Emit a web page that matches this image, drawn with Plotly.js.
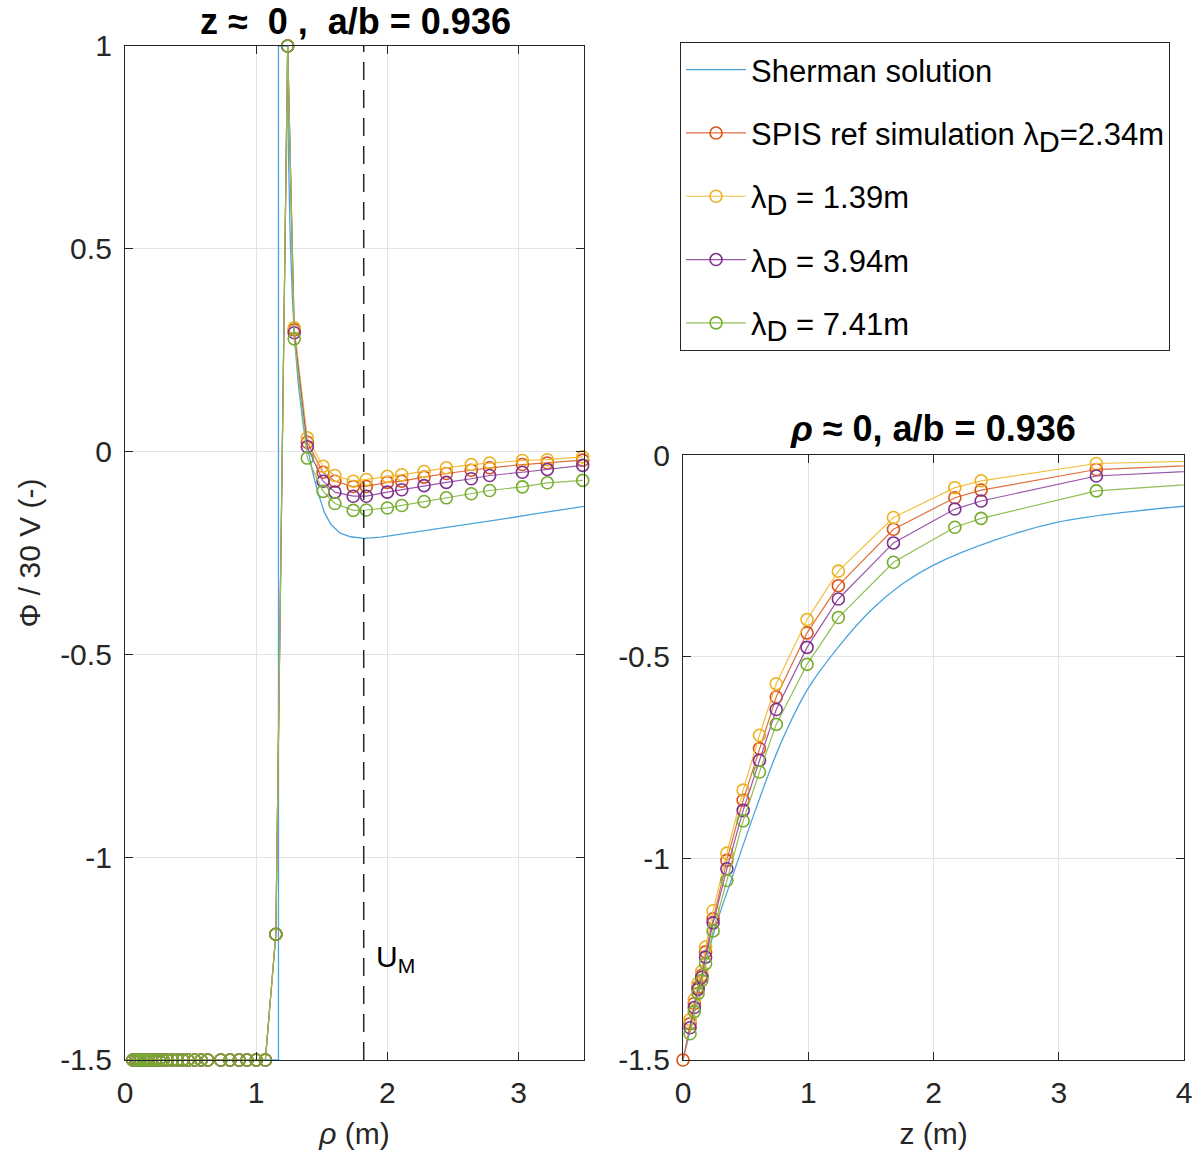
<!DOCTYPE html>
<html>
<head>
<meta charset="utf-8">
<script src="https://cdn.plot.ly/plotly-3.0.1.min.js"></script>
<style>
  body { margin: 0; background: #fff; }
  #plot { width: 1200px; height: 1167px; }
</style>
</head>
<body>
<div id="plot"></div>
<script>
// left panel: potential vs rho at z ~ 0
const rhoSherman = [0, 1.17, 1.17, 1.24, 1.245, 1.26, 1.277, 1.29, 1.32, 1.36, 1.39, 1.43, 1.47, 1.52, 1.57, 1.64, 1.72, 1.82, 1.95, 2.10, 2.34, 2.60, 2.85, 3.10, 3.30, 3.50];
const phiSherman = [-1.5, -1.5, 1.0, 1.0, 0.75, 0.52, 0.375, 0.294, 0.17, 0.06, 0.013, -0.05, -0.10, -0.15, -0.180, -0.201, -0.210, -0.214, -0.211, -0.204, -0.193, -0.180, -0.168, -0.155, -0.145, -0.135];

const rhoSim = [0.06, 0.08, 0.10, 0.12, 0.14, 0.16, 0.18, 0.20, 0.23, 0.26, 0.29, 0.32, 0.36, 0.40, 0.44, 0.48, 0.53, 0.58, 0.63, 0.73, 0.80, 0.87, 0.93, 1.00, 1.07,
                1.15, 1.24, 1.29, 1.39, 1.51, 1.60, 1.74, 1.84, 2.00, 2.11, 2.28, 2.45, 2.64, 2.78, 3.03, 3.22, 3.49];
const phiRef  = [-1.5, -1.5, -1.5, -1.5, -1.5, -1.5, -1.5, -1.5, -1.5, -1.5, -1.5, -1.5, -1.5, -1.5, -1.5, -1.5, -1.5, -1.5, -1.5, -1.5, -1.5, -1.5, -1.5, -1.5, -1.5,
                 -1.19, 1.0, 0.300, 0.023, -0.051, -0.073, -0.086, -0.086, -0.076, -0.073, -0.063, -0.054, -0.046, -0.040, -0.032, -0.028, -0.021];
const phi139  = [-1.5, -1.5, -1.5, -1.5, -1.5, -1.5, -1.5, -1.5, -1.5, -1.5, -1.5, -1.5, -1.5, -1.5, -1.5, -1.5, -1.5, -1.5, -1.5, -1.5, -1.5, -1.5, -1.5, -1.5, -1.5,
                 -1.19, 1.0, 0.305, 0.034, -0.036, -0.059, -0.073, -0.069, -0.061, -0.057, -0.049, -0.040, -0.032, -0.028, -0.022, -0.020, -0.013];
const phi394  = [-1.5, -1.5, -1.5, -1.5, -1.5, -1.5, -1.5, -1.5, -1.5, -1.5, -1.5, -1.5, -1.5, -1.5, -1.5, -1.5, -1.5, -1.5, -1.5, -1.5, -1.5, -1.5, -1.5, -1.5, -1.5,
                 -1.19, 1.0, 0.293, 0.012, -0.073, -0.100, -0.110, -0.110, -0.100, -0.094, -0.084, -0.076, -0.067, -0.059, -0.051, -0.044, -0.034];
const phi741  = [-1.5, -1.5, -1.5, -1.5, -1.5, -1.5, -1.5, -1.5, -1.5, -1.5, -1.5, -1.5, -1.5, -1.5, -1.5, -1.5, -1.5, -1.5, -1.5, -1.5, -1.5, -1.5, -1.5, -1.5, -1.5,
                 -1.19, 1.0, 0.278, -0.016, -0.098, -0.128, -0.145, -0.144, -0.139, -0.133, -0.123, -0.114, -0.104, -0.096, -0.087, -0.077, -0.071];

// right panel: potential vs z at rho ~ 0
const zSherman = [0, 0.10, 0.24, 0.40, 0.59, 0.78, 1.00, 1.23, 1.50, 1.75, 2.00, 2.50, 3.00, 3.50, 4.00];
const phiShermanZ = [-1.5, -1.37, -1.19, -1.04, -0.87, -0.715, -0.578, -0.48, -0.385, -0.32, -0.273, -0.21, -0.166, -0.143, -0.127];

const zRef = [0, 0.056, 0.09, 0.12, 0.15, 0.18, 0.24, 0.35, 0.48, 0.61, 0.744, 0.99, 1.24, 1.68, 2.17, 2.38, 3.30, 4.6];
const phiRefZ = [-1.5, -1.41, -1.36, -1.32, -1.29, -1.232, -1.15, -1.005, -0.856, -0.728, -0.600, -0.441, -0.324, -0.184, -0.106, -0.087, -0.036, -0.019];
const zSim = [0.056, 0.09, 0.12, 0.15, 0.18, 0.24, 0.35, 0.48, 0.61, 0.744, 0.99, 1.24, 1.68, 2.17, 2.38, 3.30, 4.6];
const phi139Z = [-1.40, -1.35, -1.31, -1.28, -1.22, -1.13, -0.987, -0.831, -0.695, -0.567, -0.408, -0.288, -0.155, -0.081, -0.064, -0.021, -0.011];
const phi394Z = [-1.42, -1.37, -1.325, -1.295, -1.245, -1.16, -1.026, -0.881, -0.757, -0.631, -0.477, -0.357, -0.218, -0.134, -0.114, -0.052, -0.032];
const phi741Z = [-1.435, -1.38, -1.335, -1.303, -1.261, -1.18, -1.055, -0.907, -0.786, -0.668, -0.519, -0.403, -0.266, -0.179, -0.157, -0.089, -0.061];

const sub = "<sub><span style=\"font-size:29px\">D</span></sub>";
const names = ["Sherman solution", "SPIS ref simulation λ" + sub + "=2.34m", "λ" + sub + " = 1.39m", "λ" + sub + " = 3.94m", "λ" + sub + " = 7.41m"];
const colors = ["#0072BD", "#D95319", "#EDB120", "#7E2F8E", "#77AC30"];
const lineColors = ["#4da3dc", "#e0703f", "#f2c040", "#9a55a8", "#8fc052"];

const font = "Liberation Sans, Arial, Helvetica, sans-serif";

function simTrace(x, y, i, axes, legend) {
    return {
        x: x, y: y, name: names[i], type: "scatter", mode: "lines+markers",
        xaxis: axes[0], yaxis: axes[1], showlegend: legend, cliponaxis: false, legendgroup: "g" + i,
        line: {color: lineColors[i], width: 1.2},
        marker: {symbol: "circle-open", size: 12, color: colors[i], line: {width: 1.6, color: colors[i]}}
    };
}

const traces = [
    {x: rhoSherman, y: phiSherman, name: names[0], type: "scatter", mode: "lines", legendgroup: "g0",
     xaxis: "x", yaxis: "y", line: {color: lineColors[0], width: 1.3}},
    simTrace(rhoSim, phiRef, 1, ["x", "y"], true),
    simTrace(rhoSim, phi139, 2, ["x", "y"], true),
    simTrace(rhoSim, phi394, 3, ["x", "y"], true),
    simTrace(rhoSim, phi741, 4, ["x", "y"], true),
    {x: zSherman, y: phiShermanZ, name: names[0], type: "scatter", mode: "lines", line: {shape: "spline", color: lineColors[0], width: 1.3},
     xaxis: "x2", yaxis: "y2", showlegend: false},
    simTrace(zRef, phiRefZ, 1, ["x2", "y2"], false),
    simTrace(zSim, phi139Z, 2, ["x2", "y2"], false),
    simTrace(zSim, phi394Z, 3, ["x2", "y2"], false),
    simTrace(zSim, phi741Z, 4, ["x2", "y2"], false)
];

const axisBase = {
    showline: true, linecolor: "#262626", linewidth: 1.2, mirror: "ticks",
    ticks: "inside", ticklen: 8, tickcolor: "#262626", ticklabelstandoff: 6,
    showgrid: true, gridcolor: "#e3e3e3", zeroline: false,
    tickfont: {family: font, size: 30, color: "#262626"}
};

const layout = {
    width: 1200, height: 1167,
    margin: {l: 0, r: 0, t: 0, b: 0},
    paper_bgcolor: "#fff", plot_bgcolor: "#fff",
    font: {family: font, color: "#262626"},
    xaxis: Object.assign({}, axisBase, {domain: [0.1042, 0.4867], range: [0, 3.5], tickvals: [0, 1, 2, 3], anchor: "y",
        title: {text: "<i>ρ</i> (m)", font: {family: font, size: 30}, standoff: 14}, automargin: false}),
    yaxis: Object.assign({}, axisBase, {domain: [0.0917, 0.9606], range: [-1.5, 1], tickvals: [-1.5, -1, -0.5, 0, 0.5, 1],
        ticktext: ["-1.5", "-1", "-0.5", "0", "0.5", "1"], anchor: "x",
        title: {text: "Φ / 30 V (-)", font: {family: font, size: 30}, standoff: 10}, automargin: false}),
    xaxis2: Object.assign({}, axisBase, {domain: [0.5692, 0.9867], range: [0, 4], tickvals: [0, 1, 2, 3, 4], anchor: "y2",
        title: {text: "z (m)", font: {family: font, size: 30}, standoff: 14}, automargin: false}),
    yaxis2: Object.assign({}, axisBase, {domain: [0.0917, 0.6101], range: [-1.5, 0], tickvals: [-1.5, -1, -0.5, 0],
        ticktext: ["-1.5", "-1", "-0.5", "0"], anchor: "x2", automargin: false}),
    legend: {
        x: 0.5667, y: 0.964, xanchor: "left", yanchor: "top",
        bgcolor: "#fff", bordercolor: "#262626", borderwidth: 1, tracegroupgap: 20,
        font: {family: font, size: 31, color: "#000"}, itemwidth: 60
    },
    shapes: [
        {type: "line", xref: "x", yref: "y", x0: 1.82, x1: 1.82, y0: -1.5, y1: 1,
         line: {color: "#262626", width: 1.5, dash: "18px,10px"}}
    ],
    annotations: [
        {text: "<b>z ≈\u00a0\u00a00\u00a0,\u00a0\u00a0a/b = 0.936</b>", xref: "paper", yref: "paper", x: 0.296, y: 0.982,
         xanchor: "center", yanchor: "middle", showarrow: false, font: {family: font, size: 36, color: "#000"}},
        {text: "<b><i>ρ</i> ≈ 0, a/b = 0.936</b>", xref: "paper", yref: "paper", x: 0.7775, y: 0.633,
         xanchor: "center", yanchor: "middle", showarrow: false, font: {family: font, size: 36, color: "#000"}},
        {text: "U<sub>M</sub>", xref: "x", yref: "y", x: 1.9, y: -1.25, xanchor: "left",
         showarrow: false, font: {family: font, size: 30, color: "#000"}}
    ]
};

Plotly.newPlot("plot", traces, layout, {displayModeBar: false, staticPlot: true});
</script>
</body>
</html>
